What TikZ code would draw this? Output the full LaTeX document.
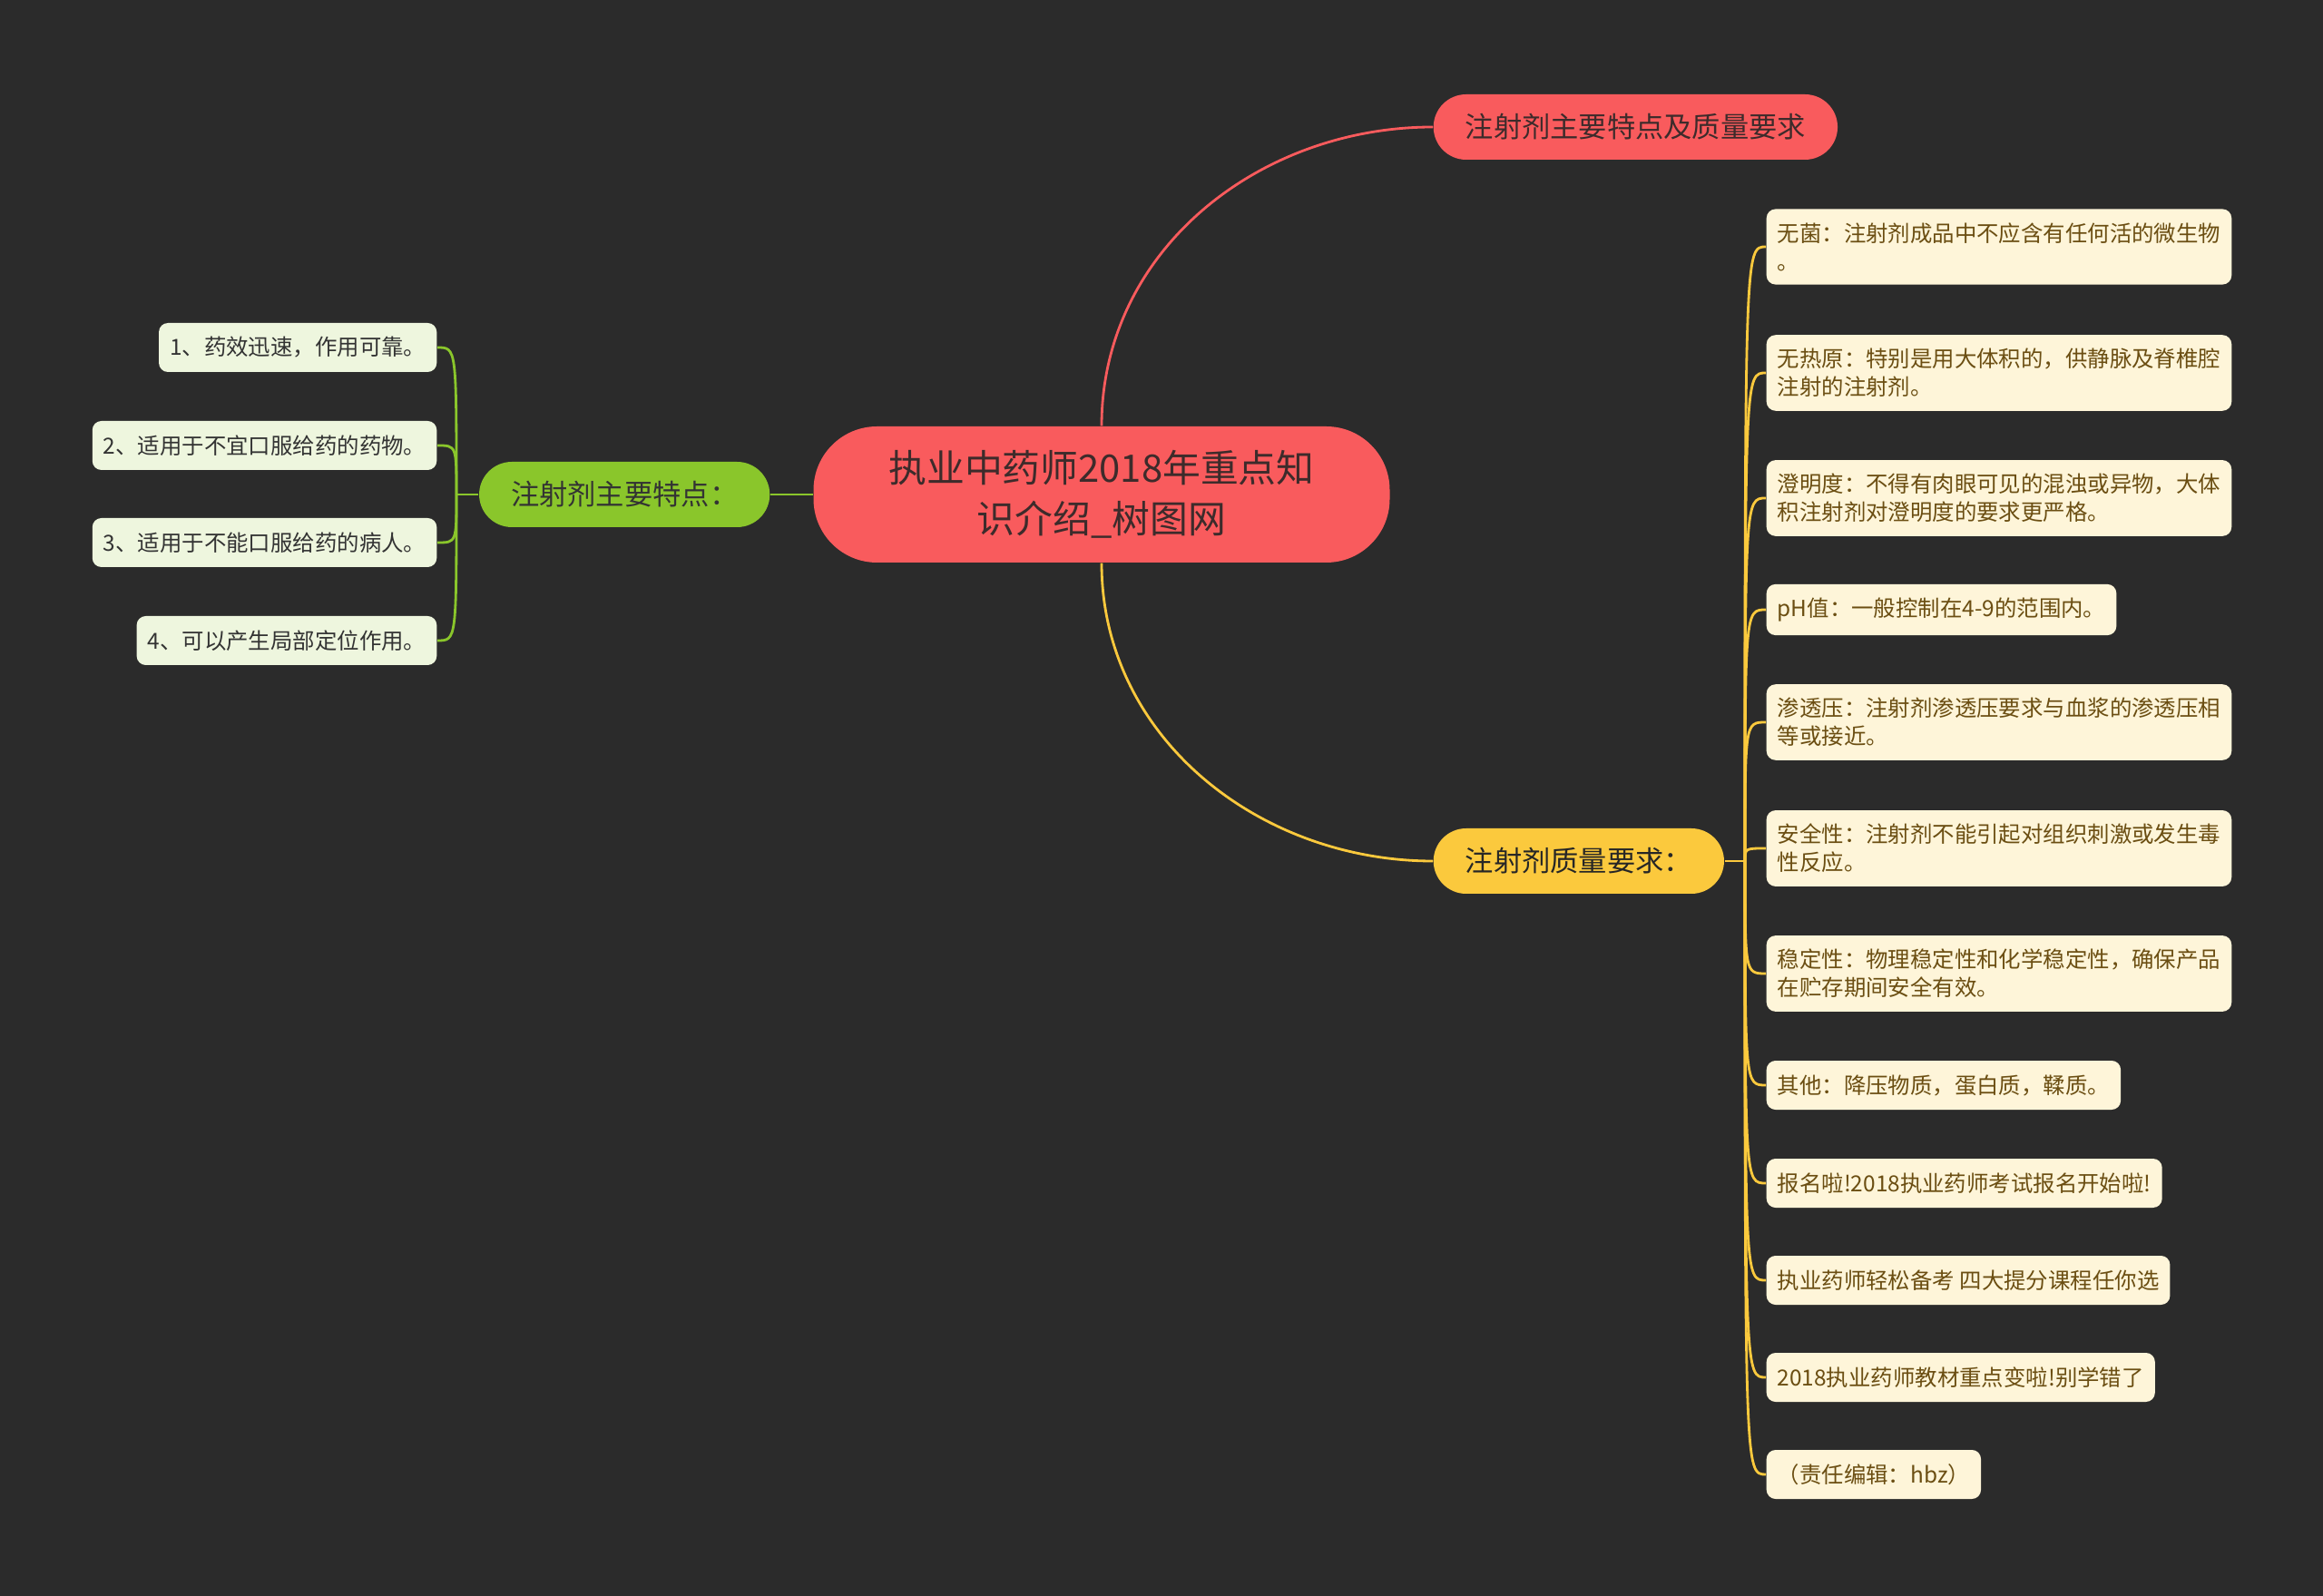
\documentclass[tikz,border=0pt]{standalone}
\usepackage{fontspec}
\setmainfont{Noto Sans CJK SC}
\usetikzlibrary{calc}

\definecolor{bgdark}{HTML}{2B2B2B}
\definecolor{mainred}{HTML}{F95B5D}
\definecolor{redtext}{HTML}{3D2B2B}
\definecolor{maingreen}{HTML}{8AC62B}
\definecolor{greenleaf}{HTML}{EEF6DE}
\definecolor{mainyellow}{HTML}{FBC93D}
\definecolor{yellowleaf}{HTML}{FEF5D9}
\definecolor{yellowtext}{HTML}{6B4E12}

\tikzset{
  rootbox/.style={fill=mainred, text=redtext, align=center, minimum width=6.35cm,
    minimum height=1.5cm, rounded corners=0.7cm, font=\fontsize{11.9}{15.8}\selectfont},
  pillbox/.style={minimum height=0.72cm, inner xsep=0.35cm, rounded corners=0.36cm,
    font=\fontsize{8.9}{11}\selectfont},
  leafbox/.style={align=left, inner xsep=0.12cm, inner ysep=0.15cm, minimum height=0.54cm,
    rounded corners=0.1cm, font=\fontsize{6.95}{8.8}\selectfont},
  gleaf/.style={leafbox, fill=greenleaf, text=black!80, anchor=east},
  yleaf/.style={leafbox, fill=yellowleaf, text=yellowtext, anchor=west},
  rline/.style={draw=mainred, line width=0.8pt},
  gline/.style={draw=maingreen, line width=0.8pt},
  yline/.style={draw=mainyellow, line width=0.8pt}
}

\begin{document}
\begin{tikzpicture}

\fill[bgdark] (0,0) rectangle (25.6,-17.59);
\useasboundingbox (0,0) rectangle (25.6,-17.59);

% centre and first level
\node[rootbox] (root) at (12.14,-5.45) {执业中药师2018年重点知\\识介绍\_树图网};
\node[pillbox, fill=mainred, text=redtext, anchor=west] (quality) at (15.79,-1.40) {注射剂主要特点及质量要求};
\node[pillbox, fill=mainyellow, text=black!85, anchor=west] (req) at (15.79,-9.49) {注射剂质量要求：};
\node[pillbox, fill=maingreen, text=black!80, anchor=east] (feat) at (8.49,-5.45) {注射剂主要特点：};

\coordinate (ftrunk) at (5.03,-5.45);
\coordinate (rtrunk) at (19.23,-9.49);

% left leaves
\node[gleaf] (f1) at (4.82,-3.83) {1、药效迅速，作用可靠。};
\node[gleaf] (f2) at (4.82,-4.91) {2、适用于不宜口服给药的药物。};
\node[gleaf] (f3) at (4.82,-5.98) {3、适用于不能口服给药的病人。};
\node[gleaf] (f4) at (4.82,-7.06) {4、可以产生局部定位作用。};

% right leaves
\node[yleaf] (r1) at (19.46,-2.72) {无菌：注射剂成品中不应含有任何活的微生物\\。};
\node[yleaf] (r2) at (19.46,-4.11) {无热原：特别是用大体积的，供静脉及脊椎腔\\注射的注射剂。};
\node[yleaf] (r3) at (19.46,-5.49) {澄明度：不得有肉眼可见的混浊或异物，大体\\积注射剂对澄明度的要求更严格。};
\node[yleaf] (r4) at (19.46,-6.72) {pH值：一般控制在4-9的范围内。};
\node[yleaf] (r5) at (19.46,-7.96) {渗透压：注射剂渗透压要求与血浆的渗透压相\\等或接近。};
\node[yleaf] (r6) at (19.46,-9.35) {安全性：注射剂不能引起对组织刺激或发生毒\\性反应。};
\node[yleaf] (r7) at (19.46,-10.73) {稳定性：物理稳定性和化学稳定性，确保产品\\在贮存期间安全有效。};
\node[yleaf] (r8) at (19.46,-11.96) {其他：降压物质，蛋白质，鞣质。};
\node[yleaf] (r9) at (19.46,-13.04) {报名啦!2018执业药师考试报名开始啦!};
\node[yleaf] (r10) at (19.46,-14.11) {执业药师轻松备考 四大提分课程任你选};
\node[yleaf] (r11) at (19.46,-15.18) {2018执业药师教材重点变啦!别学错了};
\node[yleaf] (r12) at (19.46,-16.25) {（责任编辑：hbz）};

% connectors
\draw[rline] (root.north) to[out=90,in=180] (quality.west);
\draw[yline] (root.south) to[out=-90,in=180] (req.west);
\draw[gline] (root.west) -- (feat.east);

\draw[gline] (feat.west) -- (ftrunk);
\draw[gline] (ftrunk) .. controls (ftrunk |- f1) .. (f1.east);
\draw[gline] (ftrunk) .. controls (ftrunk |- f2) .. (f2.east);
\draw[gline] (ftrunk) .. controls (ftrunk |- f3) .. (f3.east);
\draw[gline] (ftrunk) .. controls (ftrunk |- f4) .. (f4.east);

\draw[yline] (req.east) -- (rtrunk);
\draw[yline] (rtrunk) .. controls (rtrunk |- r1) .. (r1.west);
\draw[yline] (rtrunk) .. controls (rtrunk |- r2) .. (r2.west);
\draw[yline] (rtrunk) .. controls (rtrunk |- r3) .. (r3.west);
\draw[yline] (rtrunk) .. controls (rtrunk |- r4) .. (r4.west);
\draw[yline] (rtrunk) .. controls (rtrunk |- r5) .. (r5.west);
\draw[yline] (rtrunk) .. controls (rtrunk |- r6) .. (r6.west);
\draw[yline] (rtrunk) .. controls (rtrunk |- r7) .. (r7.west);
\draw[yline] (rtrunk) .. controls (rtrunk |- r8) .. (r8.west);
\draw[yline] (rtrunk) .. controls (rtrunk |- r9) .. (r9.west);
\draw[yline] (rtrunk) .. controls (rtrunk |- r10) .. (r10.west);
\draw[yline] (rtrunk) .. controls (rtrunk |- r11) .. (r11.west);
\draw[yline] (rtrunk) .. controls (rtrunk |- r12) .. (r12.west);

\end{tikzpicture}
\end{document}
